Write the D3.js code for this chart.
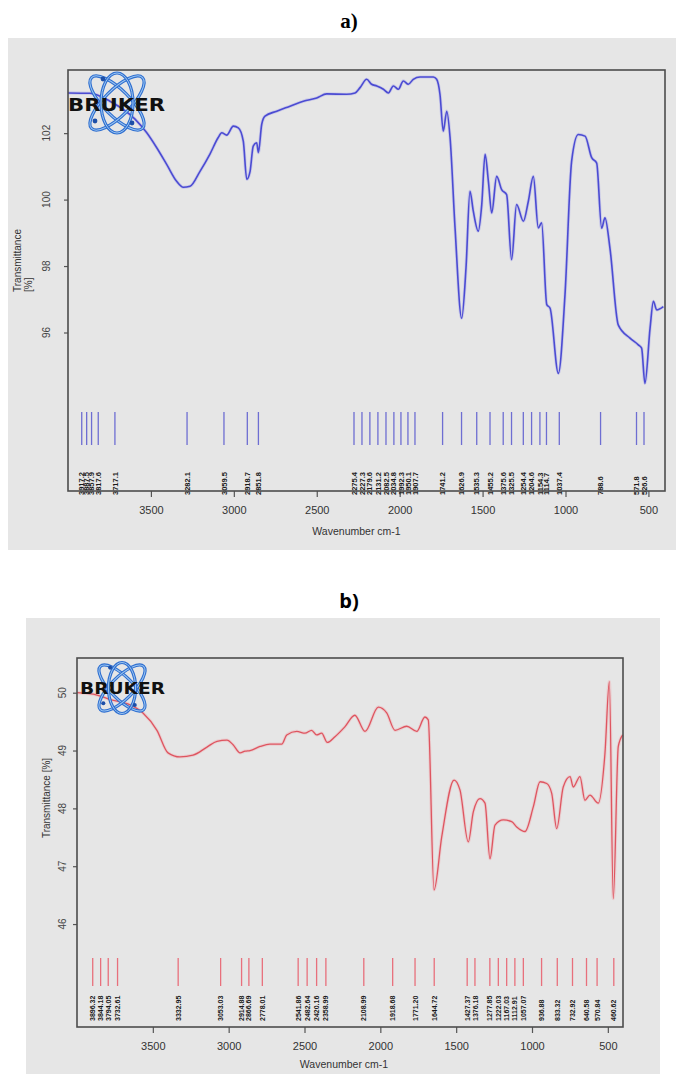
<!DOCTYPE html>
<html>
<head>
<meta charset="utf-8">
<script src="https://cdn.jsdelivr.net/npm/d3@7/dist/d3.min.js"></script>
<style>
  html, body { margin: 0; padding: 0; background: #ffffff; }
  svg { display: block; }
</style>
</head>
<body>
<svg id="chart" width="681" height="1078"></svg>
<script>
// ---------------- DATA ----------------
const xTickValues = [3500, 3000, 2500, 2000, 1500, 1000, 500];

// Panel a) spectrum
const aWavenumber = [4000, 3867, 3747, 3596, 3525, 3465, 3405, 3345, 3305, 3264, 3204, 3144, 3095, 3073, 3043, 3003, 2973, 2943, 2922, 2902, 2883, 2862, 2852, 2832, 2812, 2741, 2661, 2581, 2500, 2440, 2320, 2269, 2239, 2199, 2169, 2138, 2098, 2068, 2038, 2008, 1978, 1948, 1918, 1877, 1797, 1777, 1757, 1737, 1716, 1696, 1666, 1626, 1600, 1576, 1556, 1526, 1505, 1485, 1465, 1445, 1415, 1385, 1355, 1325, 1295, 1254, 1224, 1194, 1164, 1144, 1113, 1093, 1043, 1003, 963, 923, 882, 842, 812, 782, 762, 732, 682, 611, 561, 541, 521, 490, 470, 450, 410];
const aTransmittance = [103.21, 103.20, 102.96, 102.42, 102.01, 101.56, 101.06, 100.55, 100.37, 100.40, 100.85, 101.37, 101.86, 102.01, 101.94, 102.21, 102.16, 101.76, 100.61, 100.85, 101.61, 101.71, 101.41, 102.26, 102.51, 102.66, 102.81, 102.96, 103.06, 103.18, 103.17, 103.21, 103.37, 103.62, 103.47, 103.42, 103.32, 103.21, 103.42, 103.32, 103.57, 103.47, 103.62, 103.69, 103.69, 103.62, 103.17, 102.06, 102.66, 101.86, 99.14, 96.43, 97.94, 100.25, 99.65, 99.05, 99.85, 101.36, 100.55, 99.60, 100.70, 100.30, 100.15, 98.19, 99.85, 99.35, 99.95, 100.70, 99.15, 99.30, 96.84, 96.73, 94.77, 97.14, 101.16, 101.96, 101.91, 101.26, 101.10, 99.14, 99.45, 98.54, 96.23, 95.83, 95.63, 95.53, 94.47, 96.13, 96.94, 96.68, 96.78];
const aPeaks = [3917.2, 3887.5, 3857.9, 3817.6, 3717.1, 3282.1, 3059.5, 2918.7, 2851.8, 2275.4, 2227.3, 2179.6, 2131.2, 2082.5, 2034.8, 1992.3, 1950.1, 1907.7, 1741.2, 1626.9, 1535.3, 1455.2, 1375.6, 1325.5, 1254.4, 1204.6, 1154.3, 1114.7, 1037.4, 788.6, 571.8, 526.6];
const aYTicks = [102, 100, 98, 96];

// Panel b) spectrum
const bWavenumber = [4000, 3868, 3780, 3650, 3565, 3473, 3400, 3321, 3235, 3143, 3077, 3011, 2971, 2925, 2892, 2859, 2793, 2728, 2650, 2617, 2551, 2497, 2453, 2420, 2387, 2350, 2299, 2234, 2168, 2101, 2013, 1958, 1903, 1826, 1760, 1706, 1684, 1646, 1595, 1514, 1475, 1420, 1387, 1343, 1310, 1277, 1244, 1189, 1134, 1101, 1046, 991, 947, 903, 870, 837, 794, 749, 728, 684, 651, 618, 563, 519, 490, 464, 431, 402];
const bTransmittance = [50.00, 49.96, 49.88, 49.79, 49.65, 49.35, 48.96, 48.89, 48.92, 49.06, 49.16, 49.18, 49.10, 48.96, 48.99, 49.00, 49.07, 49.11, 49.11, 49.27, 49.33, 49.30, 49.35, 49.27, 49.30, 49.14, 49.24, 49.41, 49.61, 49.33, 49.75, 49.65, 49.35, 49.42, 49.33, 49.58, 49.53, 46.59, 47.51, 48.49, 48.32, 47.42, 47.94, 48.17, 48.09, 47.13, 47.71, 47.80, 47.77, 47.68, 47.60, 48.03, 48.46, 48.43, 48.26, 47.65, 48.37, 48.55, 48.37, 48.55, 48.14, 48.23, 48.09, 48.95, 50.19, 46.44, 49.07, 49.27];
const bPeaks = [3896.32, 3844.18, 3794.05, 3732.61, 3332.95, 3053.03, 2914.88, 2866.69, 2778.01, 2541.86, 2482.64, 2420.16, 2358.99, 2108.99, 1918.68, 1771.20, 1644.72, 1427.37, 1376.18, 1277.85, 1222.03, 1167.03, 1112.91, 1057.07, 936.88, 833.32, 732.92, 640.58, 570.84, 460.62];
const bYTicks = [50, 49, 48, 47, 46];

// ---------------- DRAW ----------------
const svg = d3.select("#chart");

function drawLogo(g, x0, textY, textW, fontSize, cx, cy, s) {
  const logo = g.append("g");
  const orbits = [
    {rx: 36 * s, ry: 13 * s, rot: 45},
    {rx: 36 * s, ry: 13 * s, rot: -45},
    {rx: 30 * s, ry: 16 * s, rot: 90}
  ];
  orbits.forEach(o => {
    logo.append("ellipse")
      .attr("cx", cx).attr("cy", cy).attr("rx", o.rx).attr("ry", o.ry)
      .attr("transform", `rotate(${o.rot},${cx},${cy})`)
      .attr("fill", "none").attr("stroke", "#2f6fd0").attr("stroke-width", 3.2);
    logo.append("ellipse")
      .attr("cx", cx).attr("cy", cy).attr("rx", o.rx).attr("ry", o.ry)
      .attr("transform", `rotate(${o.rot},${cx},${cy})`)
      .attr("fill", "none").attr("stroke", "#9cc6f2").attr("stroke-width", 1);
  });
  [[-14, -24], [15, 20], [-22, 18]].forEach(d => {
    logo.append("circle").attr("cx", cx + d[0] * s).attr("cy", cy + d[1] * s)
      .attr("r", 2.4 * s).attr("fill", "#1d4fa8");
  });
  logo.append("text")
    .attr("x", x0).attr("y", textY)
    .attr("font-family", "'DejaVu Sans', sans-serif")
    .attr("font-weight", "bold")
    .attr("font-size", fontSize)
    .attr("textLength", textW)
    .attr("lengthAdjust", "spacingAndGlyphs")
    .attr("fill", "#111")
    .text("BRUKER");
}

function drawPanel(cfg) {
  const g = svg.append("g");
  g.append("rect")
    .attr("x", cfg.bg[0]).attr("y", cfg.bg[1])
    .attr("width", cfg.bg[2]).attr("height", cfg.bg[3])
    .attr("fill", "#e6e6e6");

  const x = d3.scaleLinear().domain([4000, 400]).range([cfg.left, cfg.right]);
  const y = d3.scaleLinear().domain(cfg.yDomain).range([cfg.bottom, cfg.top]);

  const xAxis = g.append("g")
    .attr("transform", `translate(0,${cfg.bottom})`)
    .call(d3.axisBottom(x).tickValues(xTickValues).tickSize(6).tickPadding(9).tickFormat(d3.format("d")));
  xAxis.select(".domain").remove();
  xAxis.selectAll("line").attr("stroke", "#555").attr("stroke-width", 1.2);
  xAxis.selectAll("text")
    .attr("font-family", "'Liberation Sans', Arial, sans-serif")
    .attr("font-size", 11).attr("fill", "#333");

  const yAxis = g.append("g")
    .attr("transform", `translate(${cfg.left},0)`)
    .call(d3.axisLeft(y).tickValues(cfg.yTicks).tickSize(4).tickFormat(""));
  yAxis.select(".domain").remove();
  yAxis.selectAll("line").attr("stroke", "#555").attr("stroke-width", 1.2);
  g.selectAll(".ylab").data(cfg.yTicks).enter().append("text")
    .attr("class", "ylab")
    .attr("transform", d => `translate(${cfg.yLabX},${y(d)}) rotate(-90)`)
    .attr("text-anchor", "middle")
    .attr("dy", "0.35em")
    .attr("font-family", "'Liberation Sans', Arial, sans-serif")
    .attr("font-size", 10).attr("fill", "#444")
    .text(d => d);

  g.append("text")
    .attr("x", (cfg.left + cfg.right) / 2 + cfg.xTitleDx).attr("y", cfg.xTitleY)
    .attr("text-anchor", "middle")
    .attr("font-family", "'Liberation Sans', Arial, sans-serif")
    .attr("font-size", 10.5).attr("fill", "#333")
    .text("Wavenumber cm-1");
  cfg.yTitle.forEach(t => {
    g.append("text")
      .attr("transform", `translate(${t.x},${t.y}) rotate(-90)`)
      .attr("text-anchor", t.anchor)
      .attr("font-family", "'Liberation Sans', Arial, sans-serif")
      .attr("font-size", 10).attr("fill", "#333")
      .text(t.text);
  });

  g.selectAll(".pk").data(cfg.peaks).enter().append("line")
    .attr("x1", d => x(d)).attr("x2", d => x(d))
    .attr("y1", cfg.peakTop).attr("y2", cfg.peakBottom)
    .attr("stroke", cfg.peakColor).attr("stroke-width", 1.3);
  g.selectAll(".pkl").data(cfg.peaks).enter().append("text")
    .attr("transform", d => `translate(${x(d) + 2.6},${cfg.peakLabelY}) rotate(-90)`)
    .attr("text-anchor", "start")
    .attr("font-family", "'Liberation Sans', Arial, sans-serif")
    .attr("font-weight", "bold")
    .attr("font-size", cfg.peakFont).attr("fill", "#1a1a1a")
    .text(d => d.toFixed(cfg.peakDigits));

  const pts = cfg.wn.map((w, i) => [w, cfg.tr[i]]);
  const line = d3.line().x(d => x(d[0])).y(d => y(d[1])).curve(d3.curveMonotoneX);
  g.append("path").datum(pts)
    .attr("d", line)
    .attr("fill", "none").attr("stroke", cfg.haloColor).attr("stroke-width", 3.2)
    .attr("stroke-linejoin", "round");
  g.append("path").datum(pts)
    .attr("d", line)
    .attr("fill", "none").attr("stroke", cfg.lineColor).attr("stroke-width", cfg.lineWidth)
    .attr("stroke-linejoin", "round");

  g.append("rect")
    .attr("x", cfg.left).attr("y", cfg.top)
    .attr("width", cfg.right - cfg.left).attr("height", cfg.bottom - cfg.top)
    .attr("fill", "none").attr("stroke", "#4d4d4d").attr("stroke-width", 1.6);

  drawLogo(g, cfg.logo.x, cfg.logo.ty, cfg.logo.tw, cfg.logo.fs, cfg.logo.cx, cfg.logo.cy, cfg.logo.s);
}

svg.append("text").attr("x", 349).attr("y", 28).attr("text-anchor", "middle")
  .attr("font-family", "'Liberation Serif', 'Times New Roman', serif")
  .attr("font-weight", "bold").attr("font-size", 21).attr("fill", "#000").text("a)");
svg.append("text").attr("x", 349).attr("y", 608).attr("text-anchor", "middle")
  .attr("font-family", "'Open Sans', 'Liberation Sans', sans-serif")
  .attr("font-weight", "bold").attr("font-size", 20).attr("fill", "#000").text("b)");

drawPanel({
  bg: [8, 38, 668, 512],
  left: 68, right: 665, top: 70, bottom: 491,
  yDomain: [91.23, 103.9],
  yTicks: aYTicks, yLabX: 46,
  xTitleY: 535, xTitleDx: -10,
  yTitle: [
    {text: "Transmittance", x: 21, y: 292, anchor: "start"},
    {text: "[%]", x: 32, y: 292, anchor: "start"}
  ],
  peaks: aPeaks, peakTop: 412, peakBottom: 445, peakLabelY: 495, peakFont: 7.5, peakDigits: 1,
  peakColor: "#6e6ed2",
  wn: aWavenumber, tr: aTransmittance,
  lineColor: "#4b4bd2", haloColor: "rgba(150,150,235,0.35)", lineWidth: 1.6,
  logo: {x: 68, ty: 111, tw: 97, fs: 17, cx: 117, cy: 103, s: 1.0}
});

drawPanel({
  bg: [26, 618, 634, 456],
  left: 77, right: 623, top: 658, bottom: 1027,
  yDomain: [44.22, 50.6],
  yTicks: bYTicks, yLabX: 62,
  xTitleY: 1068, xTitleDx: -6,
  yTitle: [
    {text: "Transmittance [%]", x: 50, y: 798, anchor: "middle"}
  ],
  peaks: bPeaks, peakTop: 958, peakBottom: 986, peakLabelY: 1021, peakFont: 7, peakDigits: 2,
  peakColor: "#e8707c",
  wn: bWavenumber, tr: bTransmittance,
  lineColor: "#de5560", haloColor: "rgba(240,160,165,0.35)", lineWidth: 1.3,
  logo: {x: 80, ty: 694, tw: 85, fs: 15, cx: 122, cy: 688, s: 0.85}
});
</script>
</body>
</html>
